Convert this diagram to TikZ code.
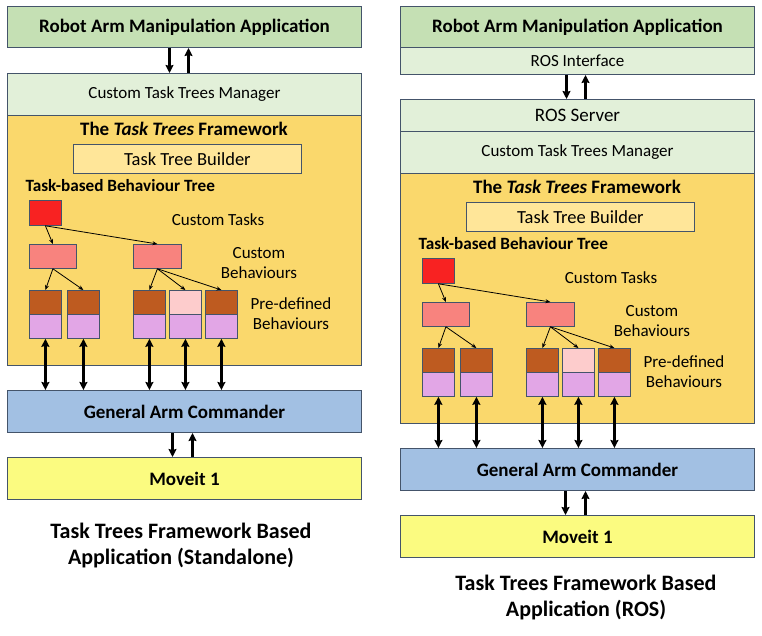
\documentclass[tikz,border=0pt]{standalone}
\usepackage{fontspec}
\setmainfont{Carlito}
\usetikzlibrary{positioning, arrows.meta}
\definecolor{edge}{HTML}{44546A}
\definecolor{appgreen}{HTML}{C5E0B4}
\definecolor{mgrgreen}{HTML}{E2F0D9}
\definecolor{fwgold}{HTML}{FAD86C}
\definecolor{buildergold}{HTML}{FFE699}
\definecolor{taskred}{HTML}{F82222}
\definecolor{behsalmon}{HTML}{F8837E}
\definecolor{predbrown}{HTML}{BE5B20}
\definecolor{predviolet}{HTML}{E2A6E6}
\definecolor{predpink}{HTML}{FDCCCC}
\definecolor{cmdblue}{HTML}{A2C0E3}
\definecolor{moveyellow}{HTML}{FBFB80}
\tikzset{
>={Stealth[length=8pt, width=8pt, inset=1pt]}, % arrow heads of the thick links
layer/.style={draw=edge, line width=1pt, anchor=north west, minimum width=354, inner sep=0pt}, % full-width layers
block/.style={draw=edge, line width=0.8pt, anchor=north west, inner sep=0pt}, % small tree boxes
boldtxt/.style={font=\bfseries\fontsize{19}{22}\selectfont},
normtxt/.style={font=\fontsize{17}{20}\selectfont},
captxt/.style={font=\bfseries\fontsize{22}{26}\selectfont, align=center},
treearrow/.style={-{Stealth[length=5pt, width=4pt]}, line width=0.8pt},
busarrow/.style={<->, line width=2.4pt},
linkarrow/.style={->, line width=2.4pt},
}

% manager, framework, commander and moveit (origin = top left of the manager)
\newcommand{\taskstack}{%
  \node[layer, fill=mgrgreen, minimum height=42, normtxt] (mgr) at (0,0) {Custom Task Trees Manager};
  \node[layer, fill=fwgold, minimum height=250] (fw) at (0,42) {};
  \node[boldtxt] (fwtitle) at (177,56) {The \textit{Task Trees} Framework};
  \node[block, fill=buildergold, minimum width=228, minimum height=29, font=\fontsize{18.5}{21}\selectfont] (builder) at (66,71) {Task Tree Builder};
  \node[boldtxt, font=\bfseries\fontsize{17.2}{20}\selectfont, anchor=west] (treelbl) at (15,113) {Task-based Behaviour Tree};
  \node[block, fill=taskred, minimum width=32, minimum height=25] (task) at (22,127) {};
  \node[normtxt] (tasklbl) at (211,147) {Custom Tasks};
  \node[block, fill=behsalmon, minimum width=47, minimum height=24] (beh1) at (22,171) {};
  \node[block, fill=behsalmon, minimum width=48, minimum height=24] (beh2) at (126,171) {};
  \node[normtxt, align=center] (behlbl) at (252,190) {Custom\\Behaviours};
  \foreach \x/\c [count=\i] in {22/predbrown, 60/predbrown, 126/predbrown, 162/predpink, 198/predbrown} {
    \node[block, fill=\c, minimum width=32, minimum height=24] (top\i) at (\x,217) {};
    \node[block, fill=predviolet, minimum width=32, minimum height=24] (bot\i) at (\x,241) {};
  }
  \node[normtxt, align=center] (predlbl) at (284,241) {Pre-defined\\Behaviours};
  \draw[treearrow] (task.south) -- (beh1.north);
  \draw[treearrow] (task.south) -- (beh2.north);
  \foreach \i in {1,2} \draw[treearrow] (beh1.south) -- (top\i.north);
  \foreach \i in {3,4,5} \draw[treearrow] (beh2.south) -- (top\i.north);
  \node[layer, fill=cmdblue, minimum height=42, boldtxt] (gac) at (0,317) {General Arm Commander};
  \foreach \i in {1,...,5} \draw[busarrow] (bot\i.south) -- (bot\i.south |- gac.north);
  \node[layer, fill=moveyellow, minimum height=42, boldtxt] (moveit) at (0,384) {Moveit 1};
  \draw[linkarrow] ([xshift=-12]gac.south) -- ([xshift=-12]moveit.north);
  \draw[linkarrow] ([xshift=8]moveit.north) -- ([xshift=8]gac.south);
}

\begin{document}
\begin{tikzpicture}[x=1pt, y=-1pt]
  \useasboundingbox (0,0) rectangle (762,636);

  % standalone application
  \node[layer, fill=appgreen, minimum height=41, boldtxt] (appL) at (7,6) {Robot Arm Manipulation Application};
  \begin{scope}[shift={(7,73)}, name prefix=L-]
    \taskstack
  \end{scope}
  \draw[linkarrow] ([xshift=-15]appL.south) -- ([xshift=-15]L-mgr.north);
  \draw[linkarrow] ([xshift=4]L-mgr.north) -- ([xshift=4]appL.south);
  \node[captxt] (capL) at (181,546) {Task Trees Framework Based\\Application (Standalone)};

  % ROS application
  \node[layer, fill=appgreen, minimum height=41, boldtxt] (appR) at (400,6) {Robot Arm Manipulation Application};
  \node[layer, fill=mgrgreen, minimum height=27, normtxt] (rosif) at (400,47) {ROS Interface};
  \node[layer, fill=mgrgreen, minimum height=32, font=\fontsize{19}{22}\selectfont] (rossrv) at (400,99) {ROS Server};
  \begin{scope}[shift={(400,131)}, name prefix=R-]
    \taskstack
  \end{scope}
  \draw[linkarrow] ([xshift=-11]rosif.south) -- ([xshift=-11]rossrv.north);
  \draw[linkarrow] ([xshift=8]rossrv.north) -- ([xshift=8]rosif.south);
  \node[captxt] (capR) at (586,598) {Task Trees Framework Based\\Application (ROS)};
\end{tikzpicture}
\end{document}
